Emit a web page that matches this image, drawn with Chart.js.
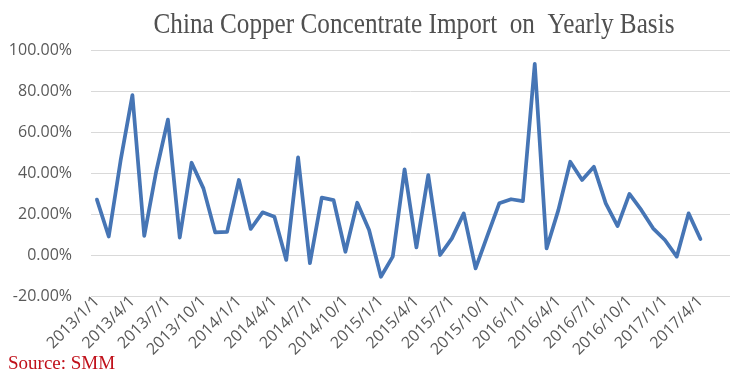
<!DOCTYPE html>
<html>
<head>
<meta charset="utf-8">
<script src="https://cdn.jsdelivr.net/npm/chart.js@4"></script>
<style>
  html, body { margin: 0; padding: 0; background: #fff; }
  #wrap { width: 750px; height: 379px; position: relative; }
</style>
</head>
<body>
<div id="wrap"><canvas id="chart1"></canvas></div>
<script>
// Months on the axis (Excel date axis runs two months past the last value)
var months = [
  "2013/1/1", "2013/2/1", "2013/3/1", "2013/4/1", "2013/5/1", "2013/6/1",
  "2013/7/1", "2013/8/1", "2013/9/1", "2013/10/1", "2013/11/1", "2013/12/1",
  "2014/1/1", "2014/2/1", "2014/3/1", "2014/4/1", "2014/5/1", "2014/6/1",
  "2014/7/1", "2014/8/1", "2014/9/1", "2014/10/1", "2014/11/1", "2014/12/1",
  "2015/1/1", "2015/2/1", "2015/3/1", "2015/4/1", "2015/5/1", "2015/6/1",
  "2015/7/1", "2015/8/1", "2015/9/1", "2015/10/1", "2015/11/1", "2015/12/1",
  "2016/1/1", "2016/2/1", "2016/3/1", "2016/4/1", "2016/5/1", "2016/6/1",
  "2016/7/1", "2016/8/1", "2016/9/1", "2016/10/1", "2016/11/1", "2016/12/1",
  "2017/1/1", "2017/2/1", "2017/3/1", "2017/4/1", "2017/5/1", "2017/6/1"
];

// Year-on-year change of copper concentrate imports, in %
var yoy = [
  27, 9, 46, 78, 9.3, 40.5, 66, 8.5, 45, 32.5, 11, 11.3,
  36.6, 12.7, 20.8, 18.7, -2.4, 47.6, -4, 28, 26.8, 1.6, 25.5, 12.2,
  -10.6, -0.8, 41.8, 3.7, 39, 0, 8.1, 20.3, -6.5, 9.5, 25.2, 27.2,
  26.3, 93.2, 3.2, 22, 45.5, 36.6, 43, 25.2, 14.1, 29.8, 22, 13,
  7.3, -0.8, 20.3, 7.8
];

var yTicks = { min: -20, max: 100, step: 20 };

var titleText = "China Copper Concentrate Import  on  Yearly Basis";
var sourceText = "Source: SMM";

const ctx1 = document.getElementById("chart1");

var myChart = new Chart(ctx1, {
  type: "line",
  data: {
    labels: months,
    datasets: [
      {
        label: "YoY",
        data: yoy,
        borderColor: "#4675b5",
        borderWidth: 3.75,
        borderJoinStyle: "round",
        borderCapStyle: "round",
        pointRadius: 0,
        tension: 0,
        fill: false,
      },
    ],
  },
  options: {
    responsive: true,
    maintainAspectRatio: false,
    animation: false,
    layout: {
      padding: { top: 50, right: 20, left: 0, bottom: 0 },
    },
    plugins: {
      legend: { display: false },
      tooltip: { enabled: false },
      title: { display: false },
    },
    scales: {
      x: {
        offset: true,
        grid: { display: false },
        border: { display: false },
        ticks: {
          autoSkip: false,
          minRotation: 45,
          maxRotation: 45,
          padding: -12,
          color: "#595959",
          font: { family: "Open Sans", size: 16 },
          callback: function (value, index) {
            // only every third month gets a label
            return index % 3 === 0 ? this.getLabelForValue(value) : "";
          },
        },
        afterFit: function (scale) {
          scale.height = 83;
        },
      },
      y: {
        min: yTicks.min,
        max: yTicks.max,
        grid: { color: "#d9d9d9", drawTicks: false },
        border: { display: false },
        ticks: {
          stepSize: yTicks.step,
          padding: 19,
          color: "#595959",
          font: { family: "Open Sans", size: 16 },
          callback: function (value) {
            return value.toFixed(2) + "%";
          },
        },
        afterFit: function (scale) {
          scale.width = 91;
        },
      },
    },
  },
  plugins: [
    {
      id: "titleAndSource",
      afterDraw: (chart) => {
        const c = chart.ctx;
        // title is a narrow Times face, squeeze it horizontally
        c.save();
        c.scale(0.84, 1);
        c.font = "30px 'Liberation Serif'";
        c.fillStyle = "#505050";
        c.textAlign = "center";
        c.textBaseline = "alphabetic";
        c.fillText(titleText, 414 / 0.84, 33);
        c.restore();

        c.save();
        c.font = "19px 'Liberation Serif'";
        c.fillStyle = "#c0101a";
        c.textAlign = "left";
        c.textBaseline = "alphabetic";
        c.fillText(sourceText, 8, 369);
        c.restore();
      },
    },
  ],
});
</script>
</body>
</html>
